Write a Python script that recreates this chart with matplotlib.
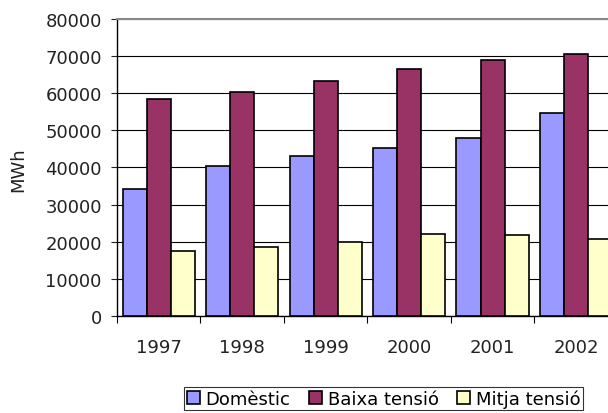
import numpy as np
import matplotlib
matplotlib.use("Agg")
import matplotlib.pyplot as plt

years = ["1997", "1998", "1999", "2000", "2001", "2002"]
domestic = [34100, 40300, 43100, 45200, 48000, 54500]
baixa = [58400, 60300, 63300, 66500, 69000, 70500]
mitja = [17400, 18600, 20000, 22100, 21900, 20700]

series = [
    ("Domèstic", domestic, "#9999FF"),
    ("Baixa tensió", baixa, "#993366"),
    ("Mitja tensió", mitja, "#FFFFCC"),
]

plt.rcParams["font.family"] = ["DejaVu Sans"]

fig = plt.figure(figsize=(6.08, 4.14), dpi=100)
# plot area runs past the right edge, as in the original
ax = fig.add_axes([0.1924, 0.2343, 0.8236, 0.7181])

x = np.arange(len(years))
w = 0.288
for i, (name, vals, col) in enumerate(series):
    ax.bar(
        x + (i - 1) * w,
        vals,
        width=w,
        color=col,
        edgecolor="black",
        linewidth=1.2,
        label=name,
        zorder=3,
    )

ax.set_xlim(-0.5, len(years) - 0.5)
ax.set_ylim(0, 80000)
ax.set_yticks(np.arange(0, 80001, 10000))
ax.tick_params(axis="y", labelsize=13, length=4, width=0.8, pad=7, colors="#222222")

# boundaries get the tick marks, centers get the labels
ax.set_xticks(np.arange(-0.5, len(years)), minor=False)
ax.set_xticklabels([])
ax.set_xticks(x, minor=True)
ax.set_xticklabels(years, minor=True)
ax.tick_params(axis="x", which="major", length=5, width=0.8, direction="out")
ax.tick_params(axis="x", which="minor", length=0, labelsize=13, pad=16, colors="#222222")

ax.grid(axis="y", color="black", linewidth=0.8)
ax.set_axisbelow(True)
ax.spines["top"].set_color("#888888")
ax.spines["top"].set_linewidth(1.5)
ax.spines["right"].set_visible(False)
ax.spines["left"].set_linewidth(1.0)
ax.spines["bottom"].set_linewidth(1.0)

fig.text(18 / 608, 1 - 170 / 414, "MWh", rotation=90, fontsize=13,
         ha="center", va="center", color="#222222")

leg = fig.legend(
    loc="center",
    bbox_to_anchor=(383.5 / 608, 1 - 399.5 / 414),
    ncol=3,
    fontsize=13,
    frameon=True,
    fancybox=False,
    handlelength=0.75,
    handleheight=0.75,
    handletextpad=0.3,
    columnspacing=1.0,
    borderpad=0.15,
    borderaxespad=0,
)
leg.get_frame().set_edgecolor("black")
leg.get_frame().set_linewidth(0.8)

fig.savefig("out.png", dpi=100)
